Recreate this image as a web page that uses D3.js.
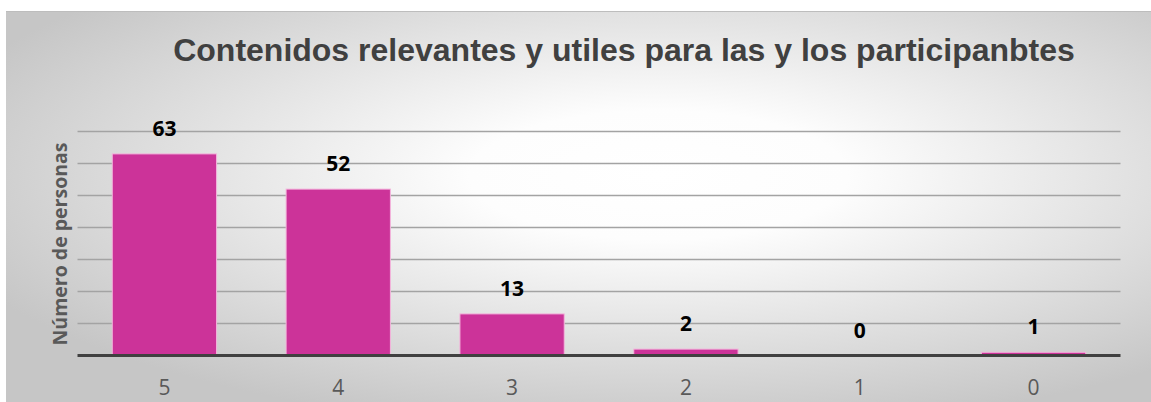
<html>
<head>
  <meta charset="utf-8">
  <title>Contenidos relevantes</title>
  <script src="https://d3js.org/d3.v7.min.js"></script>
</head>
<style type="text/css">
body { margin: 0; background: #fff; }
.xlab { font: 21px "Open Sans", sans-serif; fill: #595959; }
.val { font: bold 21px "Open Sans", sans-serif; fill: #000; }
.ytitle { font: bold 19.5px "Open Sans", sans-serif; fill: #595959; }
.title { font: bold 32px "Liberation Sans", Arial, sans-serif; fill: #404040; }
</style>
<body>
<script>

var categories = ["5", "4", "3", "2", "1", "0"],
    values = [63, 52, 13, 2, 0, 1],
    gridTicks = [10, 20, 30, 40, 50, 60, 70],
    titleText = "Contenidos relevantes y utiles para las y los participanbtes",
    yTitle = "Número de personas";

var width = 1151,
    height = 402,
    plot = {left: 77.5, right: 1120.5, top: 131.5, bottom: 355.5};

var svg = d3.select('body')
  .append('svg')
  .attr('width', width)
  .attr('height', height);

// background with radial gradient like the office chart
var grad = svg.append('defs')
  .append('radialGradient')
  .attr('id', 'bg')
  .attr('cx', 0.57)
  .attr('cy', 0.42)
  .attr('r', 0.66);
grad.append('stop').attr('offset', '0%').attr('stop-color', '#ffffff');
grad.append('stop').attr('offset', '25%').attr('stop-color', '#fdfdfd');
grad.append('stop').attr('offset', '100%').attr('stop-color', '#c6c6c6');

svg.append('rect')
  .attr('x', 6)
  .attr('y', 11)
  .attr('width', width - 6)
  .attr('height', height - 11)
  .attr('fill', 'url(#bg)');

svg.append('line')
  .attr('x1', 6).attr('x2', width)
  .attr('y1', 11.5).attr('y2', 11.5)
  .attr('stroke', '#bdbdbd')
  .attr('stroke-width', 1);

var x = d3.scaleBand()
  .domain(categories)
  .range([plot.left, plot.right])
  .paddingInner(0.4)
  .paddingOuter(0.2);

var y = d3.scaleLinear()
  .domain([0, 70])
  .range([plot.bottom, plot.top]);

// gridlines
svg.append('g')
  .selectAll('line')
  .data(gridTicks)
  .enter().append('line')
  .attr('x1', plot.left)
  .attr('x2', plot.right)
  .attr('y1', function(d) { return y(d); })
  .attr('y2', function(d) { return y(d); })
  .attr('stroke', '#a3a3a3')
  .attr('stroke-width', 1.5);

// bars (zero values draw nothing)
svg.append('g')
  .selectAll('rect')
  .data(values)
  .enter().append('rect')
  .attr('x', function(d, i) { return x(categories[i]); })
  .attr('y', function(d) { return y(d); })
  .attr('width', x.bandwidth())
  .attr('height', function(d) { return y(0) - y(d); })
  .attr('fill', '#cc3399')
  .attr('stroke', function(d) { return d > 0 ? '#f3b6dc' : 'none'; })
  .attr('stroke-width', 1);

// baseline
svg.append('line')
  .attr('x1', plot.left)
  .attr('x2', plot.right)
  .attr('y1', y(0))
  .attr('y2', y(0))
  .attr('stroke', '#404040')
  .attr('stroke-width', 3);

// value labels
svg.append('g')
  .selectAll('text')
  .data(values)
  .enter().append('text')
  .attr('class', 'val')
  .attr('x', function(d, i) { return x(categories[i]) + x.bandwidth() / 2; })
  .attr('y', function(d) { return y(d) - 18; })
  .attr('text-anchor', 'middle')
  .text(function(d) { return d; });

// category labels
svg.append('g')
  .selectAll('text')
  .data(categories)
  .enter().append('text')
  .attr('class', 'xlab')
  .attr('x', function(d) { return x(d) + x.bandwidth() / 2; })
  .attr('y', 395)
  .attr('text-anchor', 'middle')
  .text(function(d) { return d; });

svg.append('text')
  .attr('class', 'ytitle')
  .attr('transform', 'translate(66.5,244) rotate(-90)')
  .attr('text-anchor', 'middle')
  .text(yTitle);

svg.append('text')
  .attr('class', 'title')
  .attr('x', 624)
  .attr('y', 61)
  .attr('text-anchor', 'middle')
  .text(titleText);

</script>
</body>
</html>
